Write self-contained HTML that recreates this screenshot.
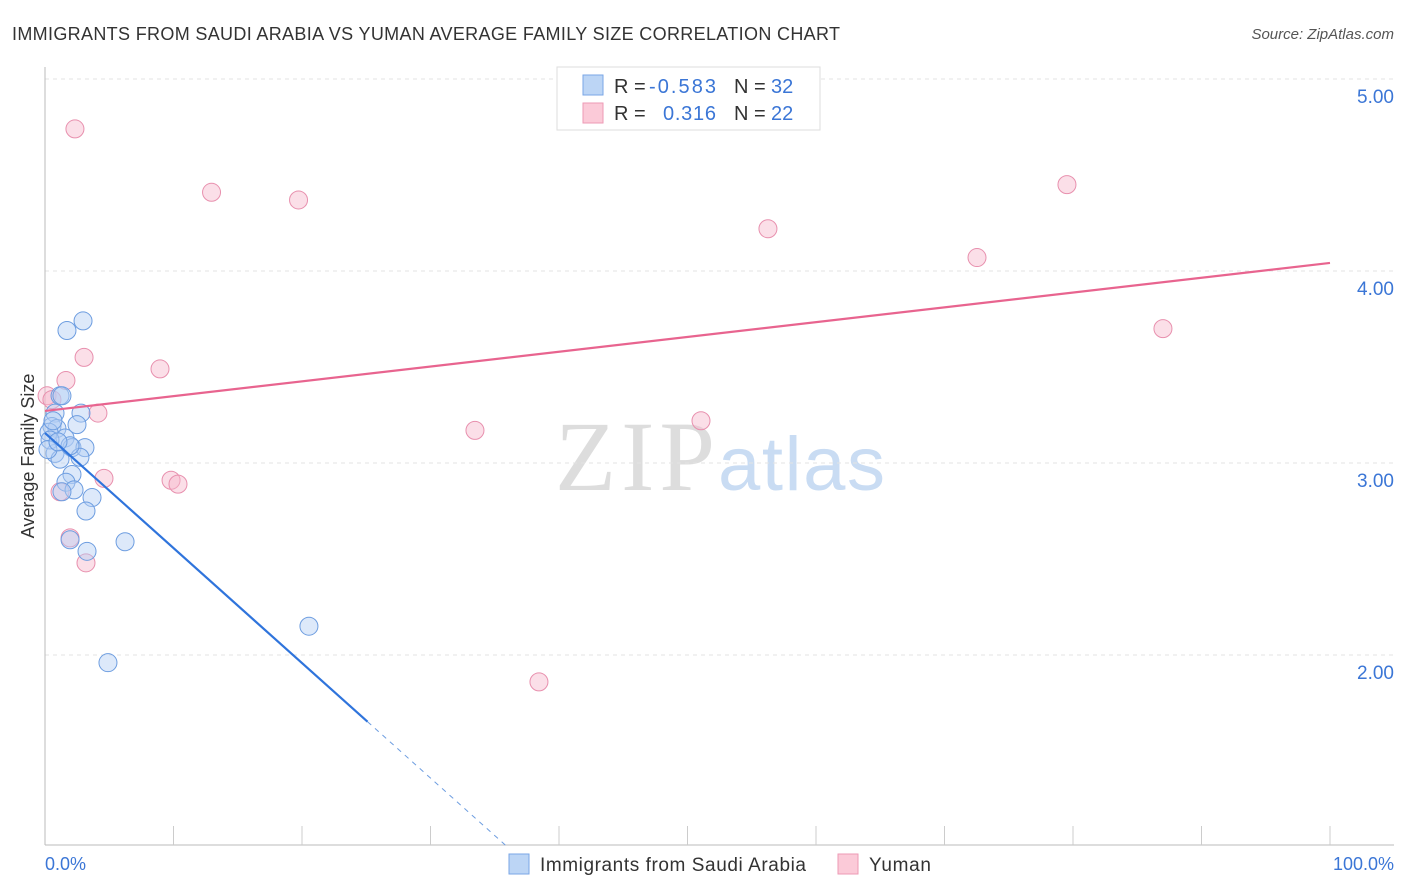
<!DOCTYPE html>
<html><head><meta charset="utf-8"><style>
body{margin:0;background:#fff;font-family:"Liberation Sans",sans-serif;}
svg{display:block}
</style></head><body>
<svg id="chart" width="1406" height="892" font-family="Liberation Sans, sans-serif">
<text x="12" y="40" font-size="18" fill="#333" textLength="828">IMMIGRANTS FROM SAUDI ARABIA VS YUMAN AVERAGE FAMILY SIZE CORRELATION CHART</text>
<text x="1394" y="39" font-size="15" fill="#555" font-style="italic" text-anchor="end">Source: ZipAtlas.com</text>
<text x="555" y="490" font-size="100" fill="#ddd" textLength="160" font-family="Liberation Serif, serif">ZIP</text>
<text x="718" y="490" font-size="76" fill="#c9dcf3" textLength="167">atlas</text>
<text transform="translate(34,456) rotate(-90)" font-size="18" fill="#333" text-anchor="middle">Average Family Size</text>
<g id="grid"></g><g id="marks"></g>
<text x="45" y="870" font-size="18" fill="#3b76d6">0.0%</text>
<text x="1394" y="870" font-size="18" fill="#3b76d6" text-anchor="end">100.0%</text>
<g>
<rect x="509" y="854" width="20" height="20" fill="#bcd5f5" stroke="#7aa6e6"/>
<text x="540" y="871" font-size="19" fill="#333" textLength="266">Immigrants from Saudi Arabia</text>
<rect x="838" y="854" width="20" height="20" fill="#fbcad8" stroke="#ee9ab5"/>
<text x="869" y="871" font-size="19" fill="#333" textLength="62">Yuman</text>
</g>
<g>
<rect x="557" y="67" width="263" height="63" fill="#fff" stroke="#ddd"/>
<rect x="583" y="75" width="20" height="20" fill="#bcd5f5" stroke="#7aa6e6"/>
<rect x="583" y="103" width="20" height="20" fill="#fbcad8" stroke="#ee9ab5"/>
<text x="614" y="93" font-size="20" fill="#333">R = <tspan fill="#3b76d6" x="649" textLength="67">-0.583</tspan></text>
<text x="734" y="93" font-size="20" fill="#333">N = <tspan fill="#3b76d6" x="771">32</tspan></text>
<text x="614" y="120" font-size="20" fill="#333">R = <tspan fill="#3b76d6" x="663" textLength="53">0.316</tspan></text>
<text x="734" y="120" font-size="20" fill="#333">N = <tspan fill="#3b76d6" x="771">22</tspan></text>
</g>
</svg>
<script>
const yTicks=[2,3,4,5];
const yTickLabels=["2.00","3.00","4.00","5.00"];
const saudiX=[2.96,1.71,1.17,0.78,2.80,2.49,0.54,0.93,0.31,1.56,2.10,3.11,0.78,2.72,1.17,2.10,1.63,2.26,1.32,3.66,3.19,1.95,3.27,6.23,20.54,4.90,0.39,0.23,0.62,1.32,1.95,1.01];
const saudiY=[3.74,3.69,3.35,3.26,3.26,3.20,3.19,3.18,3.16,3.13,3.08,3.08,3.05,3.03,3.02,2.94,2.90,2.86,2.85,2.82,2.75,2.60,2.54,2.59,2.15,1.96,3.12,3.07,3.22,3.35,3.09,3.11];
const yumanX=[2.33,12.96,19.73,56.26,79.53,72.53,87.00,3.04,8.95,1.63,0.16,4.12,33.46,51.05,4.59,9.81,10.35,1.17,1.95,3.19,38.44,0.54];
const yumanY=[4.74,4.41,4.37,4.22,4.45,4.07,3.70,3.55,3.49,3.43,3.35,3.26,3.17,3.22,2.92,2.91,2.89,2.85,2.61,2.48,1.86,3.33];
const saudiFit=[3.156,-0.0599];
const yumanFit=[3.271,0.00771];
const X=v=>45+v*12.85, Y=v=>463-(v-3)*192;
const NS="http://www.w3.org/2000/svg";
function mk(tag,attrs,parent){const e=document.createElementNS(NS,tag);for(const k in attrs)e.setAttribute(k,attrs[k]);parent.appendChild(e);return e;}
const grid=document.getElementById('grid'),marks=document.getElementById('marks');
yTicks.forEach((t,i)=>{
 const l=mk('line',{x1:45,x2:1394,y1:Y(t),y2:Y(t),stroke:'#e3e3e3','stroke-dasharray':'4,4'},grid);
 
 
 const tx=mk('text',{x:1394,y:Y(t)+24,'font-size':19,fill:'#3b76d6','text-anchor':'end'},grid);
 tx.textContent=yTickLabels[i];
 
 
});
const ax=mk('line',{x1:45,x2:45,y1:67,y2:845,stroke:'#bbb'},grid);


const bx=mk('line',{x1:45,x2:1394,y1:845,y2:845,stroke:'#bbb'},grid);


for(let i=1;i<=10;i++){const t=mk('line',{x1:X(i*10),x2:X(i*10),y1:826,y2:845,stroke:'#ccc'},grid);
 
 }
function dots(xs,ys,fill,stroke,name){xs.forEach((x,i)=>{const c=mk('circle',{cx:X(x),cy:Y(ys[i]),r:9,fill:fill,'fill-opacity':0.45,stroke:stroke,'stroke-width':1},marks);
 
 });}
dots(yumanX,yumanY,'#f7b7cb','#e890ae','yuman-point');
dots(saudiX,saudiY,'#b4cff3','#6d9de0','saudi-point');
const yl=mk('line',{x1:X(0),y1:Y(yumanFit[0]),x2:X(100),y2:Y(yumanFit[0]+100*yumanFit[1]),stroke:'#e8648f','stroke-width':2.2},marks);


const xEnd=25.1;
const sl=mk('line',{x1:X(0),y1:Y(saudiFit[0]),x2:X(xEnd),y2:Y(saudiFit[0]+xEnd*saudiFit[1]),stroke:'#2f74dc','stroke-width':2.2},marks);


const xd=(saudiFit[0]-1.01)/(-saudiFit[1]);
const sd=mk('line',{x1:X(xEnd),y1:Y(saudiFit[0]+xEnd*saudiFit[1]),x2:X(xd),y2:Y(1.01),stroke:'#6d9de0','stroke-width':1,'stroke-dasharray':'5,5'},marks);


</script>
</body></html>
